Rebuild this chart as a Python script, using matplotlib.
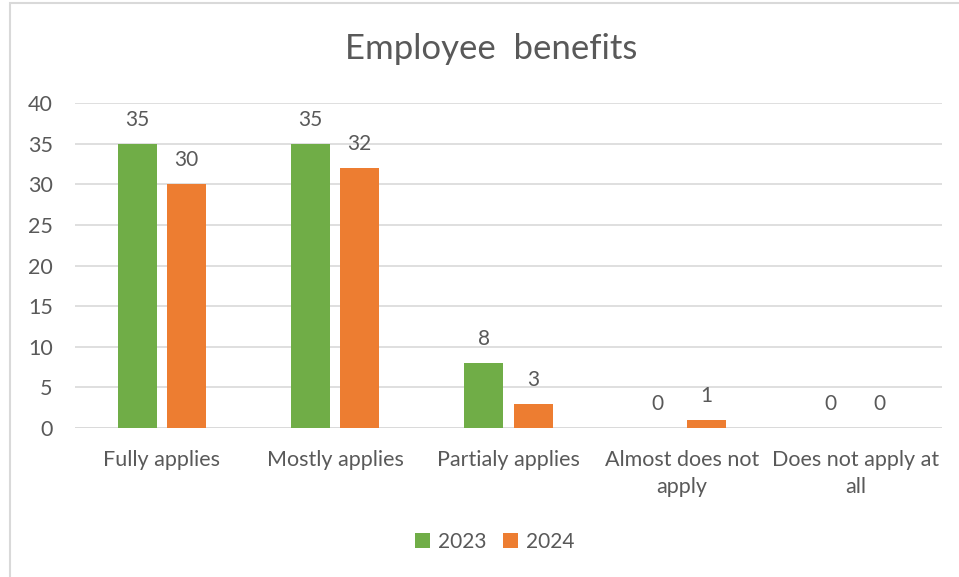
import matplotlib.pyplot as plt
import numpy as np
from matplotlib.patches import Rectangle

plt.rcParams['font.family'] = ['Lato', 'DejaVu Sans']

categories = ['Fully applies', 'Mostly applies', 'Partialy applies',
              'Almost does not\napply', 'Does not apply at\nall']
series_names = ['2023', '2024']
values_2023 = [35, 35, 8, 0, 0]
values_2024 = [30, 32, 3, 1, 0]
yticks = [0, 5, 10, 15, 20, 25, 30, 35, 40]

GREEN = '#70AD47'
ORANGE = '#ED7D31'
TEXT = '#595959'
GRID = '#D9D9D9'

fig = plt.figure(figsize=(9.59, 5.77), dpi=100)
# chart frame like the Office chart area border
fig.patches.append(Rectangle((10 / 959, -0.1), 1.1, 1 - 3 / 577 + 0.1,
                             transform=fig.transFigure, fill=False,
                             edgecolor=GRID, linewidth=1.5))

ax = fig.add_axes([75 / 959, 1 - 428 / 577, 867 / 959, 325 / 577])
x = np.arange(len(categories))
w = 0.225
gap = 0.058
b1 = ax.bar(x - (w + gap) / 2, values_2023, w, color=GREEN, label=series_names[0], zorder=3)
b2 = ax.bar(x + (w + gap) / 2, values_2024, w, color=ORANGE, label=series_names[1], zorder=3)
for bars in (b1, b2):
    ax.bar_label(bars, padding=10, fontsize=15, color=TEXT)

ax.set_xlim(-0.5, len(categories) - 0.5)
ax.set_ylim(0, 40)
ax.set_yticks(yticks)
ax.set_xticks(x)
ax.set_xticklabels(categories, linespacing=1.45)
ax.tick_params(axis='both', length=0, labelsize=15.5, colors=TEXT)
ax.tick_params(axis='x', pad=16)
ax.tick_params(axis='y', pad=16)
ax.grid(axis='y', color=GRID, linewidth=1.2, zorder=0)
for s in ax.spines.values():
    s.set_visible(False)
ax.axhline(0, color=GRID, linewidth=1.2, zorder=1)

fig.text(491 / 959, 1 - 49 / 577, 'Employee  benefits', ha='center', va='center',
         fontsize=25, color=TEXT)

leg = fig.legend(handles=[b1, b2], labels=series_names, loc='center',
                 bbox_to_anchor=(495 / 959, 1 - 542 / 577), ncol=2, frameon=False,
                 fontsize=15, handlelength=0.7, handleheight=0.7,
                 handletextpad=0.4, columnspacing=0.8)
for t in leg.get_texts():
    t.set_color(TEXT)

fig.savefig('out.png', dpi=100)
